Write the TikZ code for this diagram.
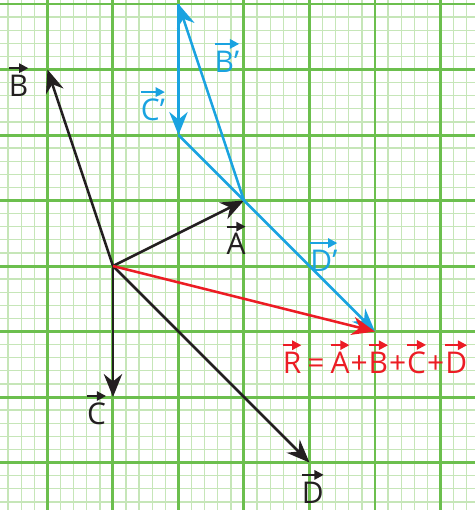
\documentclass[tikz,border=0pt]{standalone}
\usepackage{fontspec}
\setmainfont{Open Sans}
\usepackage{tikz}
\usetikzlibrary{arrows.meta}
\definecolor{GridMajor}{HTML}{6CBF4E}
\definecolor{GridMinor}{HTML}{C6E6B8}
\definecolor{VecBlue}{HTML}{1AA3E0}
\definecolor{VecRed}{HTML}{EC1C24}
\definecolor{VecBlack}{HTML}{231F20}
\newcommand{\vlet}[1]{\tikz[baseline=(v.base)]{\node[inner sep=0pt,outer sep=0pt] (v) {#1};
  \draw[-{Triangle[length=4pt,width=4pt]},line width=0.9pt] ([yshift=3pt]v.north west) -- ([yshift=3pt]v.north east);}}

\begin{document}
\begin{tikzpicture}[
minor/.style={draw=GridMinor,line width=0.6pt},
major/.style={draw=GridMajor,line width=1.3pt},
vblack/.style={-{Stealth[length=10pt,width=8pt]},line width=1.1pt,draw=VecBlack},
vblue/.style={-{Stealth[length=10pt,width=8pt]},line width=1.1pt,draw=VecBlue},
vred/.style={-{Stealth[length=10pt,width=8pt]},line width=1.1pt,draw=VecRed},
lab/.style={inner sep=0pt,font=\fontsize{13}{15}\selectfont}
]
\useasboundingbox (-1.725,-3.725) rectangle (5.527,4.061);
\draw[minor] (-1.725,-3.725) grid[step=0.2] (5.527,4.061);
\draw[major] (-1.725,-3.725) grid[step=1] (5.527,4.061);
\coordinate (O) at (0,0);
\coordinate (A) at (2,1);
\coordinate (B) at (-1,3);
\coordinate (C) at (0,-2);
\coordinate (D) at (3,-3);
\coordinate (B1) at (1,4);
\coordinate (C1) at (1,2);
\coordinate (R) at (4,-1);
\draw[vblack] (O) -- (A);
\draw[vblack] (O) -- (B);
\draw[vblack] (O) -- (C);
\draw[vblack] (O) -- (D);
\draw[vblue] (A) -- (B1);
\draw[vblue] (B1) -- (C1);
\draw[vblue] (C1) -- (R);
\draw[vred] (O) -- (R);
\node[lab,text=VecBlack] (lA) at (1.88,0.42) {\vlet{A}};
\node[lab,text=VecBlack] (lB) at (-1.44,2.84) {\vlet{B}};
\node[lab,text=VecBlack] (lC) at (-0.25,-2.17) {\vlet{C}};
\node[lab,text=VecBlack] (lD) at (3.05,-3.37) {\vlet{D}};
\node[lab,text=VecBlue] (lB1) at (1.74,3.21) {\vlet{B’}};
\node[lab,text=VecBlue] (lC1) at (0.61,2.47) {\vlet{C’}};
\node[lab,text=VecBlue] (lD1) at (3.22,0.17) {\vlet{D’}};
\node[lab,text=VecRed] (lR) at (4.0,-1.39) {\vlet{R}\,=\,\vlet{A}+\vlet{B}+\vlet{C}+\vlet{D}};
\end{tikzpicture}
\end{document}
